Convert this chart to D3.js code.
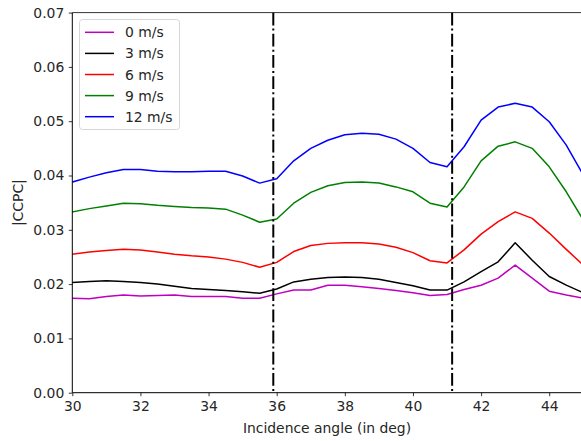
<!DOCTYPE html>
<html>
<head>
<meta charset="utf-8">
<script src="https://cdn.jsdelivr.net/npm/d3@7"></script>
<style>
  html, body { margin: 0; padding: 0; background: #fff; overflow: hidden; }
  svg { display: block; }
  text { font-family: "DejaVu Sans", sans-serif; fill: #262626; }
</style>
</head>
<body>
<svg id="chart" width="581" height="441"></svg>
<script>
// ---- data ----
const angles = d3.range(30, 45.01, 0.5);
const speedLabels = ["0 m/s", "3 m/s", "6 m/s", "9 m/s", "12 m/s"];
const seriesColors = ["#bf00bf", "#000000", "#ff0000", "#008000", "#0000ff"];
const ccpc0 = [0.0174, 0.0173, 0.0177, 0.0180, 0.0178, 0.0179, 0.0180, 0.0177, 0.0177, 0.0177, 0.0174, 0.0174,
               0.0182, 0.0189, 0.0189, 0.0198, 0.0198, 0.0195, 0.0192, 0.0188, 0.0184, 0.0179, 0.0181,
               0.0190, 0.0198, 0.0211, 0.0235, 0.0211, 0.0187, 0.0180, 0.0174];
const ccpc3 = [0.0203, 0.0205, 0.0206, 0.0205, 0.0203, 0.0200, 0.0196, 0.0192, 0.0190, 0.0188, 0.0186, 0.0183,
               0.0191, 0.0204, 0.0209, 0.0212, 0.0213, 0.0212, 0.0209, 0.0203, 0.0197, 0.0189, 0.0189,
               0.0204, 0.0223, 0.0241, 0.0276, 0.0244, 0.0214, 0.0198, 0.0184];
const ccpc6 = [0.0255, 0.0259, 0.0262, 0.0264, 0.0263, 0.0259, 0.0255, 0.0252, 0.0250, 0.0246, 0.0240, 0.0231,
               0.0240, 0.0260, 0.0271, 0.0275, 0.0276, 0.0276, 0.0274, 0.0268, 0.0258, 0.0243, 0.0239,
               0.0263, 0.0292, 0.0315, 0.0333, 0.0321, 0.0294, 0.0264, 0.0235];
const ccpc9 = [0.0333, 0.0339, 0.0344, 0.0349, 0.0348, 0.0345, 0.0343, 0.0341, 0.0340, 0.0338, 0.0327, 0.0314,
               0.0320, 0.0349, 0.0369, 0.0381, 0.0387, 0.0388, 0.0386, 0.0379, 0.0370, 0.0349, 0.0342,
               0.0379, 0.0427, 0.0454, 0.0462, 0.0450, 0.0416, 0.0370, 0.0318];
const ccpc12 = [0.0388, 0.0397, 0.0405, 0.0411, 0.0411, 0.0408, 0.0407, 0.0407, 0.0408, 0.0408, 0.0399, 0.0386,
                0.0394, 0.0427, 0.0450, 0.0465, 0.0475, 0.0478, 0.0476, 0.0467, 0.0450, 0.0424, 0.0416,
                0.0453, 0.0502, 0.0526, 0.0533, 0.0526, 0.0499, 0.0456, 0.0401];
const allSeries = [ccpc0, ccpc3, ccpc6, ccpc9, ccpc12];
const boundaryAngles = [35.9, 41.15];
const xTicks = [30, 32, 34, 36, 38, 40, 42, 44];
const yTicks = [0, 0.01, 0.02, 0.03, 0.04, 0.05, 0.06, 0.07];

// ---- layout ----
const FS = "13.9px";
const svg = d3.select("#chart");
const L = 72.3, R = 583.3, T = 12.6, B = 392.7;
const x = d3.scaleLinear().domain([30, 45]).range([L, R]);
const y = d3.scaleLinear().domain([0, 0.07]).range([B, T]);

svg.append("defs").append("clipPath").attr("id", "clip")
  .append("rect").attr("x", L).attr("y", T).attr("width", R - L).attr("height", B - T);

// lines
const line = d3.line().x((d, i) => x(angles[i])).y(d => y(d));
const plot = svg.append("g").attr("clip-path", "url(#clip)");
allSeries.forEach((s, k) => {
  plot.append("path").datum(s)
    .attr("d", line)
    .attr("fill", "none")
    .attr("stroke", seriesColors[k])
    .attr("stroke-width", 1.5)
    .attr("stroke-linejoin", "round")
    .attr("stroke-linecap", "square");
});

// boundary lines
boundaryAngles.forEach(a => {
  plot.append("line")
    .attr("x1", x(a)).attr("x2", x(a))
    .attr("y1", T).attr("y2", B)
    .attr("stroke", "#000")
    .attr("stroke-width", 2)
    .attr("stroke-dasharray", "12.8,3.2,2,3.2");
});

// axes
const xAxis = d3.axisBottom(x).tickValues(xTicks).tickFormat(d3.format("d")).tickSizeOuter(0).tickSize(3.5).tickPadding(4.5);
const yAxis = d3.axisLeft(y).tickValues(yTicks).tickFormat(d3.format(".2f")).tickSizeOuter(0).tickSize(3.5).tickPadding(4.5);

const gx = svg.append("g").attr("transform", `translate(0,${B})`).call(xAxis);
const gy = svg.append("g").attr("transform", `translate(${L},0)`).call(yAxis);
[gx, gy].forEach(g => {
  g.select(".domain").remove();
  g.selectAll(".tick line").attr("stroke", "#000").attr("stroke-width", 0.8);
  g.selectAll(".tick text").style("font-family", "DejaVu Sans").style("font-size", FS).attr("fill", "#262626");
});

// spines
svg.append("line").attr("x1", L).attr("x2", L).attr("y1", T).attr("y2", B).attr("stroke", "#000").attr("stroke-width", 1);
svg.append("line").attr("x1", L).attr("x2", R).attr("y1", B).attr("y2", B).attr("stroke", "#000").attr("stroke-width", 1);
svg.append("line").attr("x1", L).attr("x2", R).attr("y1", T).attr("y2", T).attr("stroke", "#000").attr("stroke-width", 0.8);

// axis labels
svg.append("text").attr("x", 327).attr("y", 433)
  .attr("text-anchor", "middle").style("font-size", FS)
  .text("Incidence angle (in deg)");
svg.append("text")
  .attr("transform", `translate(23,${(T + B) / 2}) rotate(-90)`)
  .attr("text-anchor", "middle").style("font-size", FS)
  .text("|CCPC|");

// legend
const lg = svg.append("g");
lg.append("rect").attr("x", 79.5).attr("y", 19.5).attr("width", 100).attr("height", 110)
  .attr("rx", 3).attr("fill", "#fff").attr("fill-opacity", 0.8)
  .attr("stroke", "#d6d6d6").attr("stroke-width", 1);
speedLabels.forEach((lab, i) => {
  const yy = 32.3 + i * 21.1;
  lg.append("line").attr("x1", 85).attr("x2", 114).attr("y1", yy).attr("y2", yy)
    .attr("stroke", seriesColors[i]).attr("stroke-width", 1.5);
  lg.append("text").attr("x", 125).attr("y", yy).attr("dy", "0.36em")
    .style("font-size", FS).text(lab);
});
</script>
</body>
</html>
